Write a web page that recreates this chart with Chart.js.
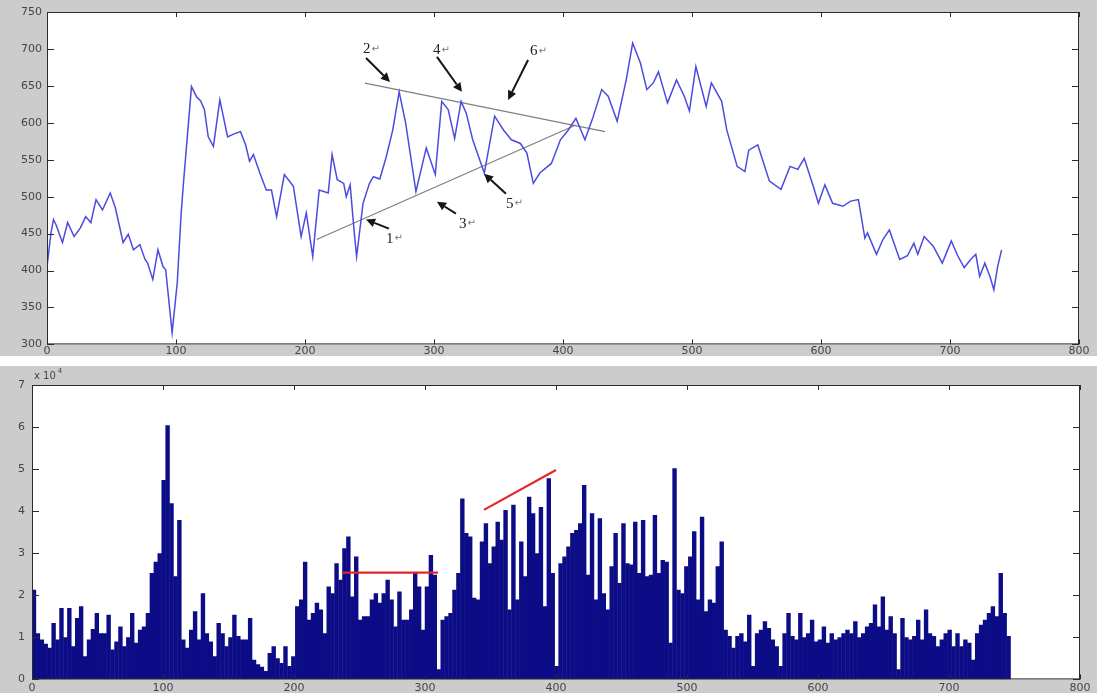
<!DOCTYPE html>
<html lang="zh">
<head>
    <meta charset="UTF-8">
    <title>Price and volume</title>
    <style>
        body {
            margin: 0;
            background: #fff;
            width: 1108px;
            height: 693px;
            position: relative;
            overflow: hidden;
        }

        .panel {
            position: absolute;
            left: 0;
            width: 1097px;
            background: #cccccc;
        }

        #top-panel {
            top: 0;
            height: 356px;
        }

        #bottom-panel {
            top: 366px;
            height: 327px;
        }
    </style>
</head>
<body>
<div class="panel" id="top-panel">
    <canvas id="price-chart"></canvas>
</div>
<div class="panel" id="bottom-panel">
    <canvas id="volume-chart"></canvas>
</div>
<script src="https://cdn.jsdelivr.net/npm/chart.js@4.4.0/dist/chart.umd.min.js"></script>
<script>
    // price curve (day index, price)
    const priceT = [0, 3, 5, 7, 12, 16, 21, 26, 30, 34, 38, 43, 49, 53, 59, 63, 67, 72, 76, 78, 82, 86, 90, 92, 97,
        101, 104, 106, 109, 112, 116, 119, 122, 125, 129, 134, 140, 145, 150, 154, 157, 160, 165, 170, 174, 178, 184,
        191, 197, 201, 206, 211, 218, 221, 225, 230, 232, 235, 238, 240, 245, 250, 253, 258, 263, 268, 273, 278, 286,
        294, 301, 306, 311, 316, 321, 325, 330, 339, 347, 354, 360, 367, 372, 377, 382, 391, 398, 404, 410, 417, 423,
        430, 435, 442, 449, 454, 460, 465, 470, 474, 481, 488, 494, 498, 503, 511, 515, 523, 527, 535, 541, 544, 551,
        560, 569, 576, 582, 587, 594, 598, 603, 609, 617, 623, 629, 634, 636, 643, 648, 653, 661, 667, 672, 675, 680,
        687, 694, 701, 706, 711, 716, 720, 723, 727, 731, 734, 737, 740];
    const priceV = [405, 450, 469, 462, 438, 465, 446, 458, 473, 465, 496, 482, 505, 485, 438, 449, 428, 435, 415, 410,
        388, 428, 405, 401, 316, 384, 478, 523, 586, 649, 635, 630, 618, 581, 568, 631, 581, 585, 588, 570, 548, 557,
        532, 509, 509, 473, 530, 514, 446, 478, 419, 509, 505, 557, 523, 518, 500, 516, 455, 419, 491, 518, 527, 524,
        554, 590, 642, 600, 507, 566, 530, 629, 618, 579, 629, 613, 577, 532, 609, 590, 577, 572, 559, 518, 532, 545,
        577, 590, 606, 577, 606, 645, 636, 602, 658, 708, 681, 645, 654, 669, 627, 658, 636, 616, 676, 622, 654, 629,
        590, 541, 534, 563, 570, 521, 510, 541, 537, 552, 514, 491, 516, 491, 487, 494, 496, 444, 451, 422, 442, 455,
        415, 420, 437, 422, 446, 433, 410, 440, 420, 404, 415, 422, 392, 410, 392, 374, 406, 428];

    // triangle drawn over the price curve
    const upperLineT = [246.5, 432.6];
    const upperLineV = [653.6, 588];
    const lowerLineT = [209, 410];
    const lowerLineV = [442, 597];

    // numbered arrows
    const arrowNames = ["1", "2", "3", "4", "5", "6"];
    const arrowTailT = [265.1, 247.3, 317, 302.3, 355.8, 372.9];
    const arrowTailV = [456.8, 687.8, 477, 689.2, 504, 685];
    const arrowHeadT = [247.3, 265.9, 302.3, 321.7, 338.8, 357.4];
    const arrowHeadV = [469, 655.4, 493.2, 641.9, 531, 631];
    const labelT = [262.8, 245, 319.4, 299.2, 355.8, 374.4];
    const labelV = [443.2, 700, 463.5, 698.6, 490.5, 697.3];

    // volume (x 10^4), one value every volStep days starting at day 0
    const volStep = 3;
    const volume = [2.13, 1.1, 0.95, 0.85, 0.75, 1.34, 0.95, 1.7, 1.0, 1.7, 0.79, 1.46, 1.74, 0.55, 0.95, 1.2, 1.58,
        1.1, 1.1, 1.54, 0.71, 0.9, 1.26, 0.79, 1.0, 1.58, 0.87, 1.18, 1.26, 1.58, 2.53, 2.8, 3.0, 4.74, 6.04, 4.19, 2.45,
        3.79, 0.95, 0.75, 1.18, 1.62, 0.95, 2.05, 1.1, 0.9, 0.55, 1.34, 1.1, 0.79, 1.0, 1.54, 1.03, 0.95, 0.95, 1.46,
        0.47, 0.36, 0.3, 0.2, 0.63, 0.79, 0.5, 0.39, 0.79, 0.32, 0.55, 1.74, 1.9, 2.8, 1.42, 1.58, 1.82, 1.66, 1.1, 2.21,
        2.05, 2.76, 2.37, 3.12, 3.4, 1.97, 2.92, 1.42, 1.5, 1.5, 1.9, 2.05, 1.82, 2.05, 2.37, 1.9, 1.26, 2.09, 1.42, 1.42,
        1.66, 2.53, 2.21, 1.18, 2.21, 2.96, 2.49, 0.24, 1.42, 1.5, 1.58, 2.13, 2.53, 4.3, 3.48, 3.4, 1.94, 1.9, 3.28,
        3.71, 2.76, 3.16, 3.75, 3.32, 4.03, 1.66, 4.15, 1.9, 3.28, 2.45, 4.34, 3.95, 3.0, 4.1, 1.74, 4.78, 2.53, 0.32,
        2.76, 2.92, 3.16, 3.48, 3.55, 3.71, 4.62, 2.49, 3.95, 1.9, 3.83, 2.05, 1.66, 2.69, 3.48, 2.29, 3.71, 2.76, 2.73,
        3.75, 2.53, 3.79, 2.45, 2.49, 3.91, 2.53, 2.84, 2.8, 0.87, 5.02, 2.13, 2.05, 2.69, 2.92, 3.52, 1.9, 3.87, 1.62,
        1.9, 1.82, 2.69, 3.28, 1.18, 1.03, 0.75, 1.03, 1.1, 0.9, 1.54, 0.32, 1.1, 1.18, 1.38, 1.22, 0.95, 0.79, 0.32,
        1.1, 1.58, 1.03, 0.95, 1.58, 1.0, 1.1, 1.42, 0.9, 0.95, 1.26, 0.87, 1.1, 0.95, 1.0, 1.1, 1.18, 1.1, 1.38, 1.0,
        1.1, 1.26, 1.34, 1.78, 1.26, 1.97, 1.18, 1.5, 1.1, 0.24, 1.46, 1.0, 0.95, 1.03, 1.42, 0.95, 1.66, 1.1, 1.03,
        0.79, 0.95, 1.1, 1.18, 0.79, 1.1, 0.79, 0.95, 0.87, 0.47, 1.1, 1.3, 1.42, 1.58, 1.74, 1.5, 2.53, 1.58, 1.03];

    // red marks on the volume panel
    const redFlatT = [237.4, 310];
    const redFlatV = [2.54, 2.54];
    const redRiseT = [345, 400];
    const redRiseV = [4.03, 4.98];

    const pts = (xs, ys) => xs.map((x, i) => ({x: x, y: ys[i]}));
    const tickFont = {family: "DejaVu Sans", size: 11};
    const tickColor = "#454545";

    // white plot box, frame and inward ticks like matlab
    const matlabAxes = {
        id: "matlabAxes",
        beforeDatasetsDraw(chart) {
            const {ctx, chartArea: a} = chart;
            ctx.save();
            ctx.fillStyle = "#fff";
            ctx.fillRect(a.left, a.top, a.right - a.left, a.bottom - a.top);
            ctx.restore();
        },
        afterDraw(chart) {
            const {ctx, chartArea: a, scales} = chart;
            ctx.save();
            ctx.strokeStyle = "#2b2b2b";
            ctx.lineWidth = 1;
            ctx.strokeRect(a.left + 0.5, a.top + 0.5, a.right - a.left - 1, a.bottom - a.top - 1);
            ctx.beginPath();
            scales.x.ticks.forEach(t => {
                const px = Math.round(scales.x.getPixelForValue(t.value)) + 0.5;
                ctx.moveTo(px, a.bottom);
                ctx.lineTo(px, a.bottom - 5);
                ctx.moveTo(px, a.top);
                ctx.lineTo(px, a.top + 5);
            });
            scales.y.ticks.forEach(t => {
                const py = Math.round(scales.y.getPixelForValue(t.value)) + 0.5;
                ctx.moveTo(a.left, py);
                ctx.lineTo(a.left + 7, py);
                ctx.moveTo(a.right, py);
                ctx.lineTo(a.right - 7, py);
            });
            ctx.stroke();
            ctx.restore();
        }
    };

    const arrows = {
        id: "arrows",
        afterDatasetsDraw(chart) {
            const {ctx, scales: {x, y}} = chart;
            ctx.save();
            arrowNames.forEach((name, i) => {
                const x0 = x.getPixelForValue(arrowTailT[i]), y0 = y.getPixelForValue(arrowTailV[i]);
                const x1 = x.getPixelForValue(arrowHeadT[i]), y1 = y.getPixelForValue(arrowHeadV[i]);
                const ang = Math.atan2(y1 - y0, x1 - x0);
                const hl = 9, hw = 4.5;
                const bx = x1 - hl * Math.cos(ang), by = y1 - hl * Math.sin(ang);
                ctx.strokeStyle = "#151515";
                ctx.fillStyle = "#151515";
                ctx.lineWidth = 2;
                ctx.beginPath();
                ctx.moveTo(x0, y0);
                ctx.lineTo(bx, by);
                ctx.stroke();
                ctx.beginPath();
                ctx.moveTo(x1, y1);
                ctx.lineTo(bx - hw * Math.sin(ang), by + hw * Math.cos(ang));
                ctx.lineTo(bx + hw * Math.sin(ang), by - hw * Math.cos(ang));
                ctx.closePath();
                ctx.fill();

                const lx = x.getPixelForValue(labelT[i]), ly = y.getPixelForValue(labelV[i]);
                ctx.textAlign = "left";
                ctx.textBaseline = "middle";
                ctx.font = "15px 'Liberation Serif'";
                ctx.fillStyle = "#222";
                ctx.fillText(name, lx, ly);
                const w = ctx.measureText(name).width;
                ctx.font = "10px 'DejaVu Sans'";
                ctx.fillStyle = "#777";
                ctx.fillText("↵", lx + w + 1, ly);
            });
            ctx.restore();
        }
    };

    const exponent = {
        id: "exponent",
        afterDraw(chart) {
            const {ctx} = chart;
            ctx.save();
            ctx.fillStyle = tickColor;
            ctx.textBaseline = "alphabetic";
            ctx.textAlign = "left";
            ctx.font = "10px 'DejaVu Sans'";
            ctx.fillText("x 10", 34, 13);
            const w = ctx.measureText("x 10").width;
            ctx.font = "7px 'DejaVu Sans'";
            ctx.fillText("4", 34 + w + 2, 7);
            ctx.restore();
        }
    };

    new Chart("price-chart", {
        type: "line",
        data: {
            datasets: [{
                data: pts(priceT, priceV),
                borderColor: "#4b4be0",
                borderWidth: 1.5,
                pointRadius: 0,
                tension: 0
            }, {
                data: pts(upperLineT, upperLineV),
                borderColor: "#808080",
                borderWidth: 1.3,
                pointRadius: 0
            }, {
                data: pts(lowerLineT, lowerLineV),
                borderColor: "#808080",
                borderWidth: 1.3,
                pointRadius: 0
            }]
        },
        options: {
            responsive: true,
            maintainAspectRatio: false,
            animation: false,
            layout: {padding: {left: 0, top: 12, right: 18, bottom: 0}},
            plugins: {
                legend: {display: false},
                tooltip: {enabled: false}
            },
            scales: {
                x: {
                    type: "linear",
                    min: 0,
                    max: 800,
                    ticks: {stepSize: 100, font: tickFont, color: tickColor, padding: 0, maxRotation: 0},
                    grid: {display: false, drawTicks: false},
                    border: {display: false},
                    afterFit: s => { s.height = 11; }
                },
                y: {
                    min: 300,
                    max: 750,
                    ticks: {stepSize: 50, font: tickFont, color: tickColor, padding: 5},
                    grid: {display: false, drawTicks: false},
                    border: {display: false},
                    afterFit: s => { s.width = 47; }
                }
            }
        },
        plugins: [matlabAxes, arrows]
    });

    new Chart("volume-chart", {
        type: "bar",
        data: {
            datasets: [{
                type: "bar",
                data: volume.map((v, i) => ({x: i * volStep + volStep / 2, y: v})),
                backgroundColor: "#0c0c86",
                borderWidth: 0,
                barPercentage: 1.12,
                categoryPercentage: 1,
                order: 2
            }, {
                type: "line",
                data: pts(redFlatT, redFlatV),
                borderColor: "#e5242a",
                borderWidth: 2.2,
                pointRadius: 0,
                order: 1
            }, {
                type: "line",
                data: pts(redRiseT, redRiseV),
                borderColor: "#e5242a",
                borderWidth: 2.2,
                pointRadius: 0,
                order: 1
            }]
        },
        options: {
            responsive: true,
            maintainAspectRatio: false,
            animation: false,
            layout: {padding: {left: 0, top: 19, right: 17, bottom: 0}},
            plugins: {
                legend: {display: false},
                tooltip: {enabled: false}
            },
            scales: {
                x: {
                    type: "linear",
                    min: 0,
                    max: 800,
                    offset: false,
                    ticks: {stepSize: 100, font: tickFont, color: tickColor, padding: 2, maxRotation: 0},
                    grid: {display: false, drawTicks: false, offset: false},
                    border: {display: false},
                    afterFit: s => { s.height = 13; }
                },
                y: {
                    min: 0,
                    max: 7,
                    ticks: {stepSize: 1, font: tickFont, color: tickColor, padding: 7},
                    grid: {display: false, drawTicks: false},
                    border: {display: false},
                    afterFit: s => { s.width = 32; }
                }
            }
        },
        plugins: [matlabAxes, exponent]
    });
</script>
</body>
</html>
